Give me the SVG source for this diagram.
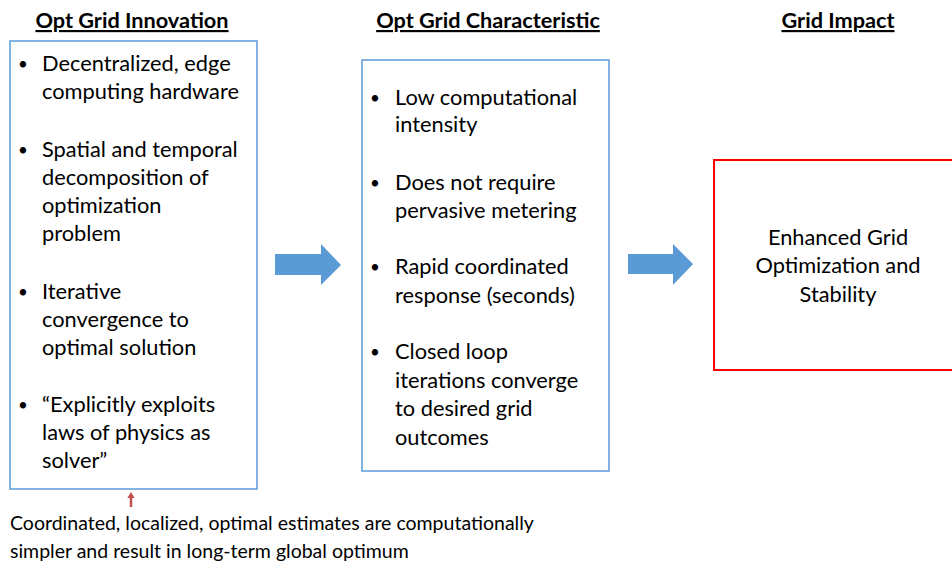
<svg xmlns="http://www.w3.org/2000/svg" width="952" height="563" viewBox="0 0 952 563">
<style>
text{font-family:Lato,"Open Sans","Liberation Sans",sans-serif;fill:#000}
.t{font-size:21.7px;font-weight:bold;text-decoration:underline;text-anchor:middle}
.b{font-size:21.8px}
.d{font-size:17px}
.c{font-size:21.8px;text-anchor:middle}
.n{font-size:19.5px}
.box{fill:#fff;stroke:#5B9BD5;stroke-width:1.5}
.arr{fill:#5B9BD5}
</style>
<rect width="952" height="563" fill="#fff"/>
<text class="t" x="132" y="28">Opt Grid Innovation</text>
<text class="t" x="488" y="28">Opt Grid Characteristic</text>
<text class="t" x="838" y="28">Grid Impact</text>
<g id="innovation">
<rect class="box" x="10" y="41" width="247" height="448"/>
<text class="d" x="18" y="70">•</text><text class="b" x="42" y="71">Decentralized, edge</text>
<text class="b" x="42" y="99">computing hardware</text>
<text class="d" x="18" y="156">•</text><text class="b" x="42" y="157">Spatial and temporal</text>
<text class="b" x="42" y="185">decomposition of</text>
<text class="b" x="42" y="213">optimization</text>
<text class="b" x="42" y="241">problem</text>
<text class="d" x="18" y="298">•</text><text class="b" x="42" y="299">Iterative</text>
<text class="b" x="42" y="327">convergence to</text>
<text class="b" x="42" y="355">optimal solution</text>
<text class="d" x="18" y="411">•</text><text class="b" x="42" y="412">“Explicitly exploits</text>
<text class="b" x="42" y="440">laws of physics as</text>
<text class="b" x="42" y="468">solver”</text>
</g>
<g id="characteristic">
<rect class="box" x="362" y="60" width="247" height="411"/>
<text class="d" x="370" y="104">•</text><text class="b" x="395" y="105">Low computational</text>
<text class="b" x="395" y="132">intensity</text>
<text class="d" x="370" y="189">•</text><text class="b" x="395" y="190">Does not require</text>
<text class="b" x="395" y="218">pervasive metering</text>
<text class="d" x="370" y="273">•</text><text class="b" x="395" y="274">Rapid coordinated</text>
<text class="b" x="395" y="303">response (seconds)</text>
<text class="d" x="370" y="358">•</text><text class="b" x="395" y="359">Closed loop</text>
<text class="b" x="395" y="388">iterations converge</text>
<text class="b" x="395" y="416">to desired grid</text>
<text class="b" x="395" y="445">outcomes</text>
</g>
<g id="impact">
<rect x="714" y="160" width="245" height="210" fill="#fff" stroke="#FF0000" stroke-width="2"/>
<text class="c" x="838" y="245">Enhanced Grid</text>
<text class="c" x="838" y="273">Optimization and</text>
<text class="c" x="838" y="302">Stability</text>
</g>
<g id="connectors">
<polygon class="arr" points="275,254 321,254 321,244 341,265 321,285 321,275 275,275"/>
<polygon class="arr" points="628,254 673,254 673,244 693,264 673,285 673,274 628,274"/>
<line x1="131" y1="507" x2="131" y2="497" stroke="#C0504D" stroke-width="2.5"/>
<polygon points="127.3,498 134.7,498 131,492" fill="#C0504D"/>
</g>
<g id="note">
<text class="n" x="10" y="530">Coordinated, localized, optimal estimates are computationally</text>
<text class="n" x="10" y="558">simpler and result in long-term global optimum</text>
</g>
</svg>
